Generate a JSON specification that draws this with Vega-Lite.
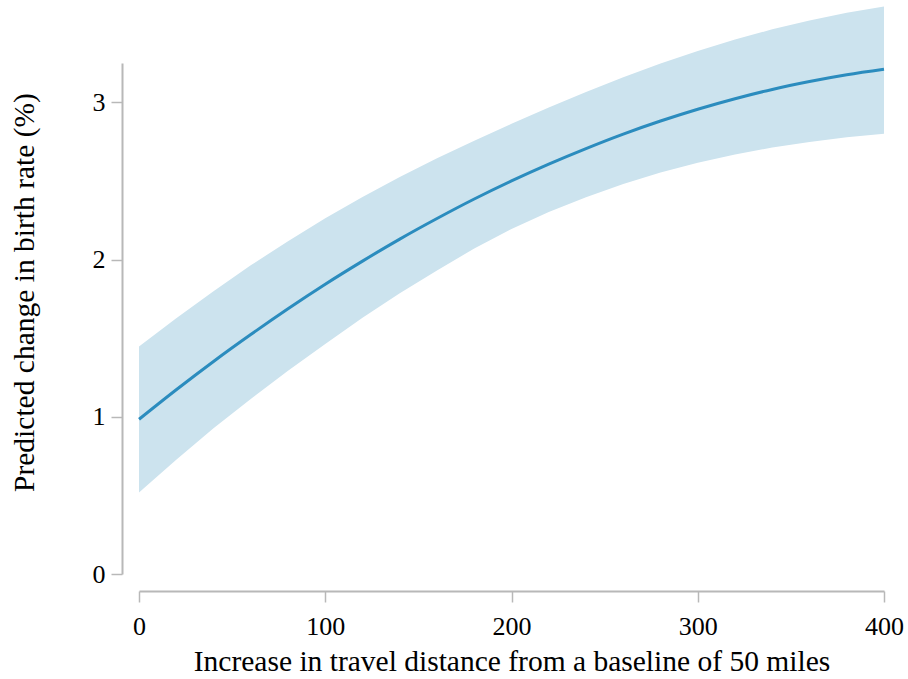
{
  "$schema": "https://vega.github.io/schema/vega-lite/v6.json",
  "autosize": {"type": "none"},
  "width": 745,
  "height": 511,
  "padding": {"left": 139, "top": 63, "right": 24, "bottom": 105},
  "background": "white",
  "config": {"view": {"stroke": null}},
  "data": {"values": [
    {"x": 0, "fit": 0.984, "lo": 0.518, "hi": 1.447},
    {"x": 20, "fit": 1.172, "lo": 0.727, "hi": 1.627},
    {"x": 40, "fit": 1.352, "lo": 0.927, "hi": 1.799},
    {"x": 60, "fit": 1.523, "lo": 1.113, "hi": 1.963},
    {"x": 80, "fit": 1.687, "lo": 1.292, "hi": 2.117},
    {"x": 100, "fit": 1.843, "lo": 1.463, "hi": 2.263},
    {"x": 120, "fit": 1.990, "lo": 1.630, "hi": 2.398},
    {"x": 140, "fit": 2.130, "lo": 1.785, "hi": 2.525},
    {"x": 160, "fit": 2.261, "lo": 1.931, "hi": 2.644},
    {"x": 180, "fit": 2.385, "lo": 2.070, "hi": 2.755},
    {"x": 200, "fit": 2.500, "lo": 2.195, "hi": 2.863},
    {"x": 220, "fit": 2.607, "lo": 2.302, "hi": 2.967},
    {"x": 240, "fit": 2.706, "lo": 2.396, "hi": 3.066},
    {"x": 260, "fit": 2.798, "lo": 2.480, "hi": 3.160},
    {"x": 280, "fit": 2.881, "lo": 2.553, "hi": 3.247},
    {"x": 300, "fit": 2.956, "lo": 2.616, "hi": 3.326},
    {"x": 320, "fit": 3.023, "lo": 2.668, "hi": 3.399},
    {"x": 340, "fit": 3.082, "lo": 2.712, "hi": 3.464},
    {"x": 360, "fit": 3.132, "lo": 2.747, "hi": 3.520},
    {"x": 380, "fit": 3.175, "lo": 2.778, "hi": 3.569},
    {"x": 400, "fit": 3.210, "lo": 2.800, "hi": 3.610}
  ]},
  "encoding": {
    "x": {
      "field": "x", "type": "quantitative",
      "scale": {"domain": [0, 400], "nice": false, "zero": false},
      "axis": {
        "values": [0, 100, 200, 300, 400],
        "format": "d",
        "labelFlush": false,
        "labelOverlap": false,
        "offset": 17,
        "grid": false,
        "domainColor": "#b8b8b8", "domainWidth": 2,
        "tickColor": "#b8b8b8", "tickWidth": 1.5, "tickSize": 11,
        "labelFont": "Liberation Serif", "labelFontSize": 26, "labelColor": "#000000",
        "labelPadding": 11,
        "title": "Increase in travel distance from a baseline of 50 miles",
        "titleFont": "Liberation Serif", "titleFontSize": 29.5, "titleFontWeight": "normal",
        "titleColor": "#000000",
        "titleBaseline": "alphabetic",
        "titleY": 79
      }
    }
  },
  "layer": [
    {
      "mark": {"type": "area", "color": "#cce3ee", "opacity": 1},
      "encoding": {
        "y": {
          "field": "lo", "type": "quantitative",
          "scale": {"domain": [0, 3.25], "nice": false},
          "axis": {
            "values": [0, 1, 2, 3],
            "format": "d",
            "labelFlush": false,
            "labelOverlap": false,
            "offset": 17,
            "grid": false,
            "domainColor": "#b8b8b8", "domainWidth": 2,
            "tickColor": "#b8b8b8", "tickWidth": 1.5, "tickSize": 11,
            "labelFont": "Liberation Serif", "labelFontSize": 26, "labelColor": "#000000",
            "labelPadding": 6,
            "title": "Predicted change in birth rate (%)",
            "titleFont": "Liberation Serif", "titleFontSize": 29.5, "titleFontWeight": "normal",
            "titleColor": "#000000",
            "titleAngle": -90,
            "titleBaseline": "alphabetic",
            "titleX": -89,
            "titleY": 229
          }
        },
        "y2": {"field": "hi"}
      }
    },
    {
      "mark": {"type": "line", "color": "#2b8cbe", "strokeWidth": 3, "interpolate": "monotone"},
      "encoding": {
        "y": {"field": "fit", "type": "quantitative"}
      }
    }
  ]
}
